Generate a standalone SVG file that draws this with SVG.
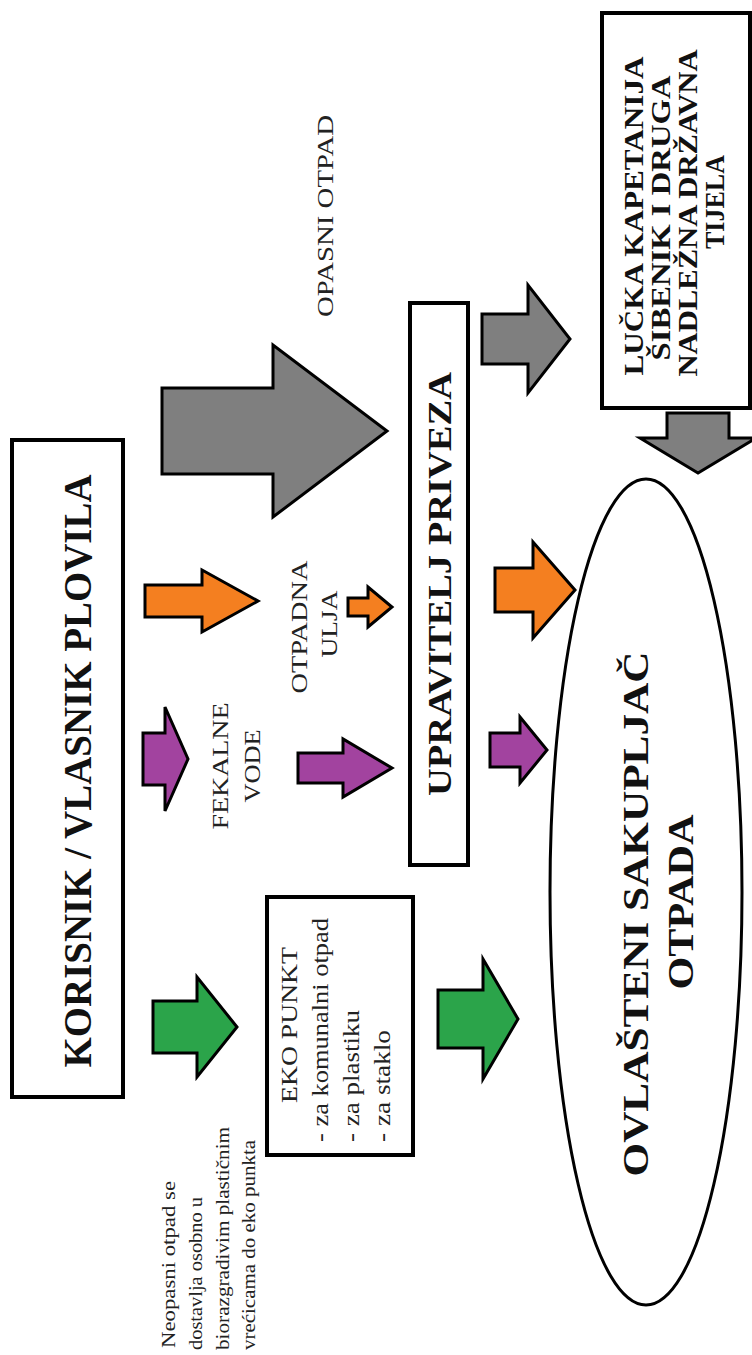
<svg xmlns="http://www.w3.org/2000/svg" width="752" height="1355" viewBox="0 0 752 1355">
<style>
.box{fill:#fff;stroke:#000;stroke-width:4}
.ar{stroke:#000;stroke-width:3;stroke-linejoin:miter}
.g{fill:#2ba44a}.o{fill:#f47f20}.p{fill:#a2439f}.k{fill:#7f7f7f}
.tb{font-family:"Liberation Serif",serif;font-weight:bold;fill:#111}
.tr{font-family:"Liberation Serif",serif;fill:#222}
</style>
<rect width="752" height="1355" fill="#fff"/>
<g id="connectors">
<polygon class="ar k" points="162,388 273,388 273,345 387,431 273,517 273,474 162,474"/>
<polygon class="ar k" points="482,314 528,314 528,285 570,339 528,393 528,364 482,364"/>
<polygon class="ar k" points="667,413 729,413 729,438 756,438 698,473 640,438 667,438"/>
<polygon class="ar o" points="145,585 202,585 202,570 258,601 202,632 202,617 145,617"/>
<polygon class="ar o" points="348,598 368,598 368,587 392,607 368,627 368,616 348,616"/>
<polygon class="ar o" points="495,568 533,568 533,542 575,590 533,638 533,612 495,612"/>
<polygon class="ar p" points="143,733 165,733 165,707 188,759 165,811 165,785 143,785"/>
<polygon class="ar p" points="298,753 343,753 343,739 392,768 343,797 343,783 298,783"/>
<polygon class="ar p" points="490,733 520,733 520,717 547,750 520,783 520,767 490,767"/>
<polygon class="ar g" points="153,1001 197,1001 197,977 237,1027 197,1077 197,1053 153,1053"/>
<polygon class="ar g" points="438,990 483,990 483,959 518,1019 483,1079 483,1048 438,1048"/>
</g>
<g id="korisnik">
<rect class="box" x="12" y="440" width="111" height="657"/>
<text class="tb" font-size="40" text-anchor="middle" textLength="593" lengthAdjust="spacingAndGlyphs" transform="translate(91,771) rotate(-90)">KORISNIK / VLASNIK PLOVILA</text>
</g>
<g id="upravitelj">
<rect class="box" x="410" y="303" width="58" height="562"/>
<text class="tb" font-size="34" text-anchor="middle" textLength="424" lengthAdjust="spacingAndGlyphs" transform="translate(451,584) rotate(-90)">UPRAVITELJ PRIVEZA</text>
</g>
<g id="lucka">
<rect class="box" x="602" y="13" width="148" height="395"/>
<g class="tb" font-size="28" text-anchor="middle">
<text textLength="319" lengthAdjust="spacingAndGlyphs" transform="translate(643,216) rotate(-90)">LUČKA KAPETANIJA</text>
<text textLength="285" lengthAdjust="spacingAndGlyphs" transform="translate(670,218) rotate(-90)">ŠIBENIK I DRUGA</text>
<text textLength="327" lengthAdjust="spacingAndGlyphs" transform="translate(697,213) rotate(-90)">NADLEŽNA DRŽAVNA</text>
<text textLength="94" lengthAdjust="spacingAndGlyphs" transform="translate(724,202) rotate(-90)">TIJELA</text>
</g>
</g>
<g id="sakupljac">
<ellipse cx="646" cy="892" rx="96" ry="413" fill="#fff" stroke="#000" stroke-width="3"/>
<text class="tb" font-size="36" text-anchor="middle" textLength="525" lengthAdjust="spacingAndGlyphs" transform="translate(648,914) rotate(-90)">OVLAŠTENI SAKUPLJAČ</text>
<text class="tb" font-size="36" text-anchor="middle" textLength="175" lengthAdjust="spacingAndGlyphs" transform="translate(693,902) rotate(-90)">OTPADA</text>
</g>
<g id="eko-punkt">
<rect class="box" x="267" y="897" width="146" height="258"/>
<text class="tr" font-size="24" text-anchor="middle" textLength="156" lengthAdjust="spacingAndGlyphs" transform="translate(297,1025) rotate(-90)">EKO PUNKT</text>
<text class="tr" font-size="23" textLength="224" lengthAdjust="spacingAndGlyphs" transform="translate(328,1142) rotate(-90)">- za komunalni otpad</text>
<text class="tr" font-size="23" textLength="132" lengthAdjust="spacingAndGlyphs" transform="translate(359,1142) rotate(-90)">- za plastiku</text>
<text class="tr" font-size="23" textLength="112" lengthAdjust="spacingAndGlyphs" transform="translate(390,1142) rotate(-90)">- za staklo</text>
</g>
<g id="label-opasni">
<text class="tr" font-size="24" text-anchor="middle" textLength="202" lengthAdjust="spacingAndGlyphs" transform="translate(333,216) rotate(-90)">OPASNI OTPAD</text>
</g>
<g id="label-ulja">
<text class="tr" font-size="24" text-anchor="middle" textLength="133" lengthAdjust="spacingAndGlyphs" transform="translate(307,627) rotate(-90)">OTPADNA</text>
<text class="tr" font-size="24" text-anchor="middle" textLength="67" lengthAdjust="spacingAndGlyphs" transform="translate(337,624) rotate(-90)">ULJA</text>
</g>
<g id="label-fekalne">
<text class="tr" font-size="24" text-anchor="middle" textLength="127" lengthAdjust="spacingAndGlyphs" transform="translate(228,766) rotate(-90)">FEKALNE</text>
<text class="tr" font-size="24" text-anchor="middle" textLength="73" lengthAdjust="spacingAndGlyphs" transform="translate(260,766) rotate(-90)">VODE</text>
</g>
<g id="note">
<text class="tr" font-size="18" textLength="167" lengthAdjust="spacingAndGlyphs" transform="translate(175,1348) rotate(-90)">Neopasni otpad se</text>
<text class="tr" font-size="18" textLength="153" lengthAdjust="spacingAndGlyphs" transform="translate(202,1350) rotate(-90)">dostavlja osobno u</text>
<text class="tr" font-size="18" textLength="223" lengthAdjust="spacingAndGlyphs" transform="translate(229,1350) rotate(-90)">biorazgradivim plastičnim</text>
<text class="tr" font-size="18" textLength="210" lengthAdjust="spacingAndGlyphs" transform="translate(255,1350) rotate(-90)">vrećicama do eko punkta</text>
</g>
</svg>
